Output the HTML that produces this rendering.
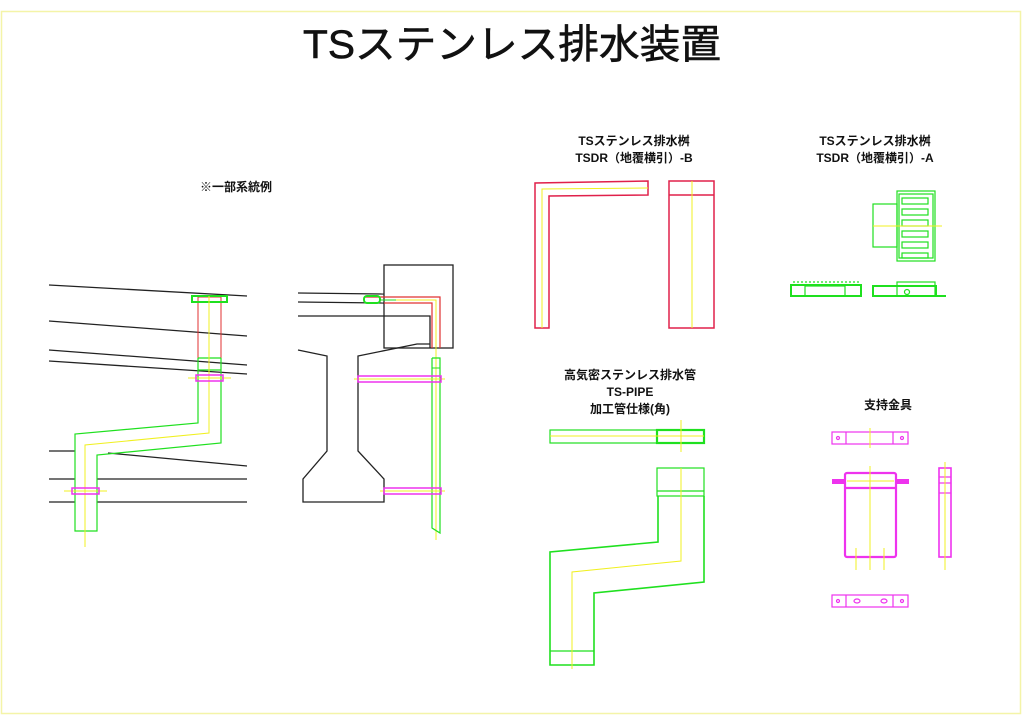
<!DOCTYPE html>
<html><head><meta charset="utf-8"><style>
html,body{margin:0;padding:0;background:#fff;}
svg{display:block;}
text{font-family:"Liberation Sans","Noto Sans CJK JP",sans-serif;fill:#111;}
</style></head><body>
<svg width="1024" height="724" viewBox="0 0 1024 724" xmlns="http://www.w3.org/2000/svg">
<rect x="1.5" y="11.5" width="1019" height="702" fill="none" stroke="#f4f4a8" stroke-width="1.5"/>
<text x="512" y="58" font-size="40" text-anchor="middle" font-weight="normal" stroke="#111" stroke-width="0.6" textLength="418" lengthAdjust="spacingAndGlyphs">TSステンレス排水装置</text>
<text x="236" y="191" font-size="12" text-anchor="middle" font-weight="bold">※一部系統例</text>

<!-- left system -->
<g stroke="#222" stroke-width="1.3" fill="none">
<line x1="49" y1="285" x2="247" y2="296"/>
<line x1="49" y1="321" x2="247" y2="336"/>
<line x1="49" y1="350" x2="247" y2="365"/>
<line x1="49" y1="361" x2="247" y2="374"/>
<line x1="49" y1="451" x2="75" y2="451"/>
<line x1="108" y1="453" x2="247" y2="466"/>
<line x1="49" y1="479" x2="75" y2="479"/><line x1="97" y1="479" x2="247" y2="479"/>
<line x1="49" y1="502" x2="75" y2="502"/><line x1="97" y1="502" x2="247" y2="502"/>
</g>
<rect x="198" y="297" width="23" height="61" fill="none" stroke="#e03030" stroke-width="1"/>
<rect x="192" y="296" width="35" height="6" fill="none" stroke="#1fe01f" stroke-width="2"/>
<g stroke="#1fe01f" stroke-width="1.2" fill="none">
<line x1="198" y1="358" x2="221" y2="358"/><line x1="198" y1="370" x2="221" y2="370"/>
<polyline points="198,358 198,423 75,434 75,531 97,531 97,455 221,443 221,358"/>
</g>
<polyline points="209,296 209,433 85,445 85,547" fill="none" stroke="#f0f020" stroke-width="1"/>
<line x1="188" y1="378" x2="231" y2="378" stroke="#f0f020"/>
<line x1="64" y1="491" x2="107" y2="491" stroke="#f0f020"/>
<rect x="196" y="375" width="27" height="6" fill="none" stroke="#ee33ee" stroke-width="1.5"/>
<rect x="72" y="488" width="27" height="6" fill="none" stroke="#ee33ee" stroke-width="1.5"/>

<!-- right system -->
<g stroke="#222" stroke-width="1.3" fill="none">
<rect x="384" y="265" width="69" height="83"/>
<line x1="298" y1="293" x2="384" y2="294"/>
<line x1="298" y1="302" x2="384" y2="303"/>
<polyline points="298,316 430,316 430,348"/>
<polyline points="298,350 327,356 327,451 303,479 303,502 384,502 384,479 358,451 358,356 417,344 430,344"/>
</g>
<polyline points="365,297 440,297 440,348" fill="none" stroke="#e03030" stroke-width="1.2"/>
<polyline points="384,303 432,303 432,348" fill="none" stroke="#e03030" stroke-width="1.2"/>
<polyline points="387,300 436,300 436,540" fill="none" stroke="#f0f020" stroke-width="1"/>
<rect x="364" y="296" width="16" height="7" rx="3" fill="none" stroke="#1fe01f" stroke-width="2"/>
<line x1="380" y1="300" x2="396" y2="300" stroke="#1fe01f"/>
<polyline points="432,358 432,528 440,533 440,358 432,358" fill="none" stroke="#1fe01f" stroke-width="1.2"/>
<line x1="432" y1="368" x2="440" y2="368" stroke="#1fe01f"/>
<line x1="354" y1="379" x2="445" y2="379" stroke="#f0f020"/>
<line x1="380" y1="491" x2="445" y2="491" stroke="#f0f020"/>
<rect x="358" y="376" width="83" height="6" fill="none" stroke="#ee33ee" stroke-width="1.5"/>
<rect x="384" y="488" width="57" height="6" fill="none" stroke="#ee33ee" stroke-width="1.5"/>

<!-- B -->
<text x="634" y="145" font-size="12" text-anchor="middle" font-weight="bold">TSステンレス排水桝</text>
<text x="634" y="162" font-size="12" text-anchor="middle" font-weight="bold">TSDR（地覆横引）-B</text>
<polygon points="535,328 535,183 648,181 648,195 549,196 549,328" fill="none" stroke="#e0204a" stroke-width="1.5"/>
<polyline points="542,328 542,189 648,188" fill="none" stroke="#f0f020"/>
<rect x="669" y="181" width="45" height="147" fill="none" stroke="#e0204a" stroke-width="1.5"/>
<line x1="669" y1="195" x2="714" y2="195" stroke="#e0204a" stroke-width="1.5"/>
<line x1="692" y1="181" x2="692" y2="328" stroke="#f0f020"/>

<!-- A -->
<text x="875" y="145" font-size="12" text-anchor="middle" font-weight="bold">TSステンレス排水桝</text>
<text x="875" y="162" font-size="12" text-anchor="middle" font-weight="bold">TSDR（地覆横引）-A</text>
<g stroke="#1fe01f" stroke-width="1.2" fill="none">
<rect x="897" y="191" width="38" height="70"/>
<rect x="899" y="194" width="34" height="64"/>
<rect x="873" y="204" width="24" height="43"/>
<rect x="902" y="198" width="26" height="6"/>
<rect x="902" y="209" width="26" height="6"/>
<rect x="902" y="220" width="26" height="6"/>
<rect x="902" y="231" width="26" height="6"/>
<rect x="902" y="242" width="26" height="6"/>
<rect x="902" y="253" width="26" height="5"/>
<rect x="791" y="285" width="70" height="11" stroke-width="2"/>
<rect x="805" y="286" width="40" height="10"/>
<line x1="793" y1="282" x2="859" y2="282" stroke-dasharray="2,2"/>
<rect x="873" y="286" width="63" height="10" stroke-width="2"/>
<rect x="897" y="282" width="38" height="14"/>
<line x1="936" y1="296" x2="946" y2="296" stroke-width="2"/>
<circle cx="907" cy="292" r="2.5"/>
</g>
<line x1="873" y1="226" x2="942" y2="226" stroke="#f0f020"/>

<!-- PIPE -->
<text x="630" y="379" font-size="12" text-anchor="middle" font-weight="bold">高気密ステンレス排水管</text>
<text x="630" y="396" font-size="12" text-anchor="middle" font-weight="bold">TS-PIPE</text>
<text x="630" y="413" font-size="12" text-anchor="middle" font-weight="bold">加工管仕様(角)</text>
<rect x="550" y="430" width="154" height="13" fill="none" stroke="#1fe01f" stroke-width="1.2"/>
<rect x="657" y="430" width="47" height="13" fill="none" stroke="#1fe01f" stroke-width="2.2"/>
<line x1="550" y1="436" x2="704" y2="436" stroke="#f0f020"/>
<line x1="681" y1="420" x2="681" y2="452" stroke="#f0f020"/>
<g stroke="#1fe01f" stroke-width="1.2" fill="none">
<rect x="657" y="468" width="47" height="28"/>
<line x1="657" y1="491" x2="704" y2="491"/>
<polyline points="704,496 704,582 594,593 594,665 550,665 550,552 658,542 658,496" stroke-width="1.6"/>
<line x1="550" y1="651" x2="594" y2="651"/>
</g>
<polyline points="681,468 681,561 572,572 572,669" fill="none" stroke="#f0f020"/>

<!-- 支持金具 -->
<text x="888" y="409" font-size="12" text-anchor="middle" font-weight="bold">支持金具</text>
<g stroke="#ee33ee" fill="none" stroke-width="1.2">
<rect x="832" y="432" width="76" height="12"/>
<line x1="846" y1="432" x2="846" y2="444"/><line x1="893" y1="432" x2="893" y2="444"/>
<circle cx="838" cy="438" r="1.5"/><circle cx="902" cy="438" r="1.5"/>
<rect x="845" y="473" width="51" height="84" rx="2" stroke-width="2.2"/>
<line x1="845" y1="488" x2="896" y2="488" stroke-width="2.2"/>
<rect x="939" y="468" width="12" height="89" stroke-width="1.6"/>
<line x1="939" y1="477" x2="951" y2="477"/><line x1="939" y1="483" x2="951" y2="483"/><line x1="939" y1="493" x2="951" y2="493"/>
<rect x="832" y="595" width="76" height="12"/>
<line x1="846" y1="595" x2="846" y2="607"/><line x1="893" y1="595" x2="893" y2="607"/>
<circle cx="838" cy="601" r="1.5"/><circle cx="902" cy="601" r="1.5"/>
<ellipse cx="857" cy="601" rx="3" ry="2"/><ellipse cx="884" cy="601" rx="3" ry="2"/>
</g>
<rect x="832" y="479" width="14" height="5" fill="#ee33ee"/>
<rect x="895" y="479" width="14" height="5" fill="#ee33ee"/>
<g stroke="#f0f020">
<line x1="870" y1="428" x2="870" y2="448"/>
<line x1="870" y1="466" x2="870" y2="570"/>
<line x1="856" y1="548" x2="856" y2="570"/>
<line x1="884" y1="548" x2="884" y2="570"/>
<line x1="847" y1="481" x2="894" y2="481"/>
<line x1="945" y1="462" x2="945" y2="570"/>
</g>
</svg>
</body></html>
